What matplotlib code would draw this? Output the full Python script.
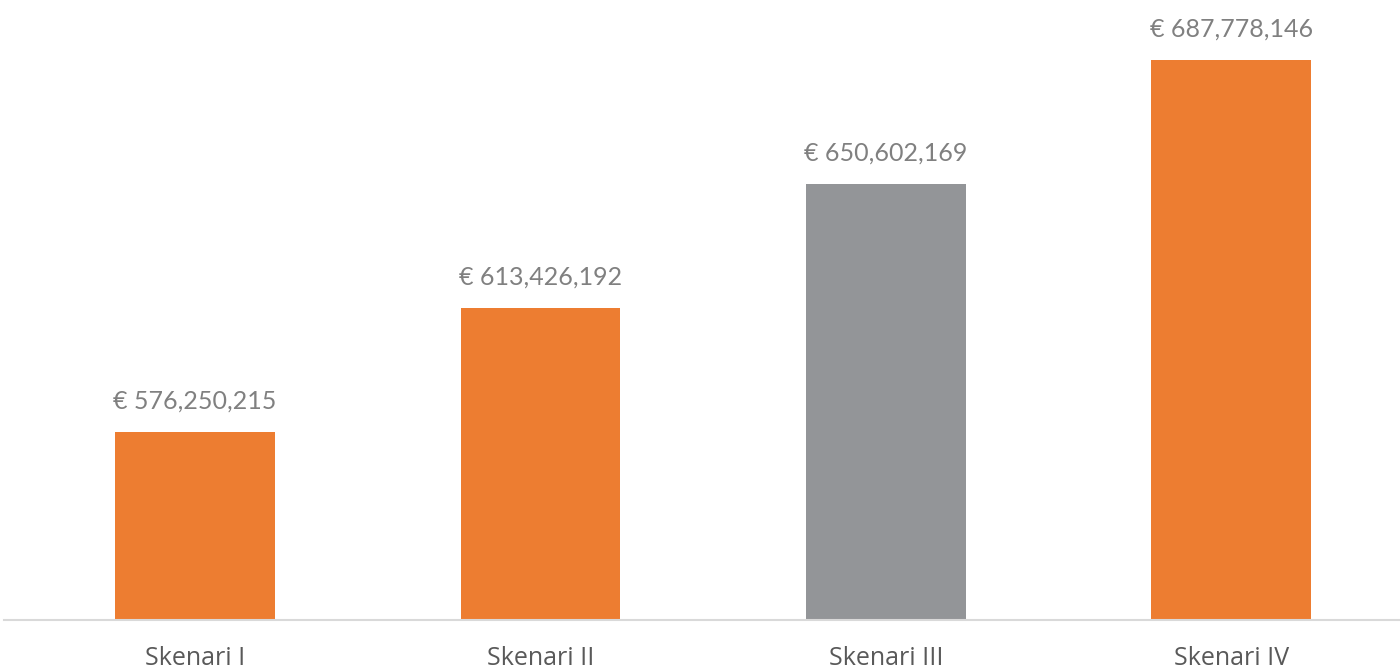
import matplotlib.pyplot as plt

categories = ["Skenari I", "Skenari II", "Skenari III", "Skenari IV"]
values = [576250215, 613426192, 650602169, 687778146]
colors = ["#ED7D31", "#ED7D31", "#939598", "#ED7D31"]

W, H = 1400, 669
fig = plt.figure(figsize=(W / 100, H / 100), dpi=100)
ax = fig.add_axes([4 / W, 49.5 / H, 1 - 4 / W, (H - 19 - 49.5) / H])

x = range(len(categories))
bars = ax.bar(x, values, width=0.463, color=colors, zorder=2)

ax.set_xlim(-0.553, 3.488)
ax.set_ylim(520e6, 700e6)

for b, v in zip(bars, values):
    ax.annotate(f"€ {v:,}", (b.get_x() + b.get_width() / 2, v),
                xytext=(0, 14), textcoords="offset points",
                ha="center", va="bottom", fontsize=18, color="#808080",
                family="Lato", clip_on=False)

for s in ["top", "right", "left"]:
    ax.spines[s].set_visible(False)
ax.spines["bottom"].set_color("#d9d9d9")
ax.spines["bottom"].set_linewidth(1.5)
ax.set_yticks([])
ax.set_xticks(list(x))
ax.set_xticklabels(categories, fontsize=18, color="#595959", family="Open Sans")
ax.tick_params(axis="x", length=0, pad=19)

fig.savefig("out.png", dpi=100)
